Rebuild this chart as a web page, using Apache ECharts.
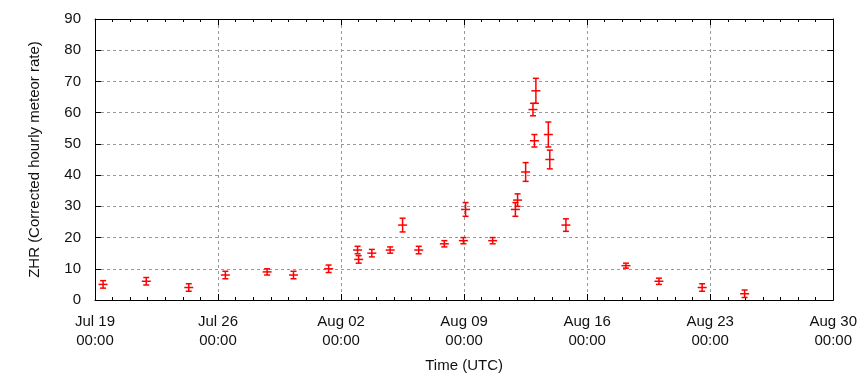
<!DOCTYPE html>
<html>
<head>
<meta charset="utf-8">
<script src="https://cdn.jsdelivr.net/npm/echarts@6/dist/echarts.min.js"></script>
<style>html,body{margin:0;padding:0;background:#fff}#c{width:860px;height:380px}</style>
</head>
<body>
<div id="c"></div>
<script>
// Observation times (UTC), ZHR values and error half-widths
const times = [
  '2016-07-19T11:00Z','2016-07-21T22:00Z','2016-07-24T08:00Z','2016-07-26T10:00Z',
  '2016-07-28T19:00Z','2016-07-30T07:00Z','2016-08-01T07:00Z','2016-08-02T22:30Z',
  '2016-08-03T00:00Z','2016-08-03T18:00Z','2016-08-04T19:00Z','2016-08-05T12:00Z',
  '2016-08-06T10:00Z','2016-08-07T21:00Z','2016-08-08T23:00Z','2016-08-09T02:00Z',
  '2016-08-10T15:00Z','2016-08-11T22:00Z','2016-08-12T01:00Z','2016-08-12T12:00Z',
  '2016-08-12T22:00Z','2016-08-13T00:00Z','2016-08-13T02:00Z','2016-08-13T19:00Z',
  '2016-08-13T21:00Z','2016-08-14T19:00Z','2016-08-18T05:00Z','2016-08-20T02:00Z',
  '2016-08-22T13:00Z','2016-08-24T23:00Z'
];
const zhr = [5,6,4,8,9,8,10,16,13,15,16,24,16,18,19,29,19,29,32,41,61,51,67,53,45,24,11,6,4,2];
const zhrErr = [1.2,1.2,1.2,1.2,1,1.2,1.2,1.2,1.2,1.2,1,2.2,1.2,1,1,2.2,1,2.2,2,3,2,2,4,4,3,2,0.8,1,1.2,1.2];
const xStart = '2016-07-19T00:00Z';
const xEnd = '2016-08-30T00:00Z';
const monthNames = ['Jan','Feb','Mar','Apr','May','Jun','Jul','Aug','Sep','Oct','Nov','Dec'];

const DAY = 86400000;
const data = times.map((t, i) => [Date.parse(t), zhr[i], zhrErr[i]]);
const FONT = '"Liberation Sans", Arial, sans-serif';
const gridLine = {show: true, lineStyle: {color: '#999999', type: [3, 3], width: 1}};

function fmt(v) {
  const d = new Date(v);
  const dd = String(d.getUTCDate()).padStart(2, '0');
  const hh = String(d.getUTCHours()).padStart(2, '0');
  const mm = String(d.getUTCMinutes()).padStart(2, '0');
  return monthNames[d.getUTCMonth()] + ' ' + dd + '\n' + hh + ':' + mm;
}

const chart = echarts.init(document.getElementById('c'), null, {renderer: 'canvas'});
const xMin = Date.parse(xStart), xMax = Date.parse(xEnd);
const baseX = {
  type: 'value', min: xMin, max: xMax, interval: 7 * DAY,
  axisLine: {show: true, onZero: false, lineStyle: {color: '#000', width: 1}},
  axisTick: {show: true, inside: true, length: 6, lineStyle: {color: '#000'}},
  minorTick: {show: true, splitNumber: 7, length: 3, lineStyle: {color: '#000'}}
};
const baseY = {
  type: 'value', min: 0, max: 90, interval: 10,
  axisLine: {show: true, onZero: false, lineStyle: {color: '#000', width: 1}},
  axisTick: {show: true, inside: true, length: 6, lineStyle: {color: '#000'}}
};
chart.setOption({
  animation: false,
  backgroundColor: '#fff',
  grid: {left: 95, right: 25, top: 19, bottom: 80, containLabel: false},
  xAxis: [
    Object.assign({}, baseX, {
      position: 'bottom',
      splitLine: gridLine,
      axisLabel: {formatter: fmt, color: '#111', fontFamily: FONT, fontSize: 15, lineHeight: 19, margin: 12},
      name: 'Time (UTC)', nameLocation: 'middle', nameGap: 58,
      nameTextStyle: {color: '#111', fontFamily: FONT, fontSize: 15}
    }),
    Object.assign({}, baseX, {position: 'top', splitLine: {show: false}, axisLabel: {show: false}})
  ],
  yAxis: [
    Object.assign({}, baseY, {
      position: 'left',
      splitLine: gridLine,
      axisLabel: {color: '#111', fontFamily: FONT, fontSize: 15, margin: 14},
      name: 'ZHR (Corrected hourly meteor rate)', nameLocation: 'middle', nameGap: 53,
      nameTextStyle: {color: '#111', fontFamily: FONT, fontSize: 15}
    }),
    Object.assign({}, baseY, {position: 'right', splitLine: {show: false}, axisLabel: {show: false}})
  ],
  series: [{
    type: 'custom',
    xAxisIndex: 0, yAxisIndex: 0,
    data: data,
    renderItem: function (params, api) {
      const x = api.value(0), y = api.value(1), e = api.value(2);
      const c = api.coord([x, y]);
      const lo = api.coord([x, y - e]);
      const hi = api.coord([x, y + e]);
      const st = {stroke: '#ff0000', lineWidth: 1.5};
      const cap = 3, bar = 4.5;
      return {
        type: 'group',
        children: [
          {type: 'line', shape: {x1: c[0], y1: hi[1], x2: c[0], y2: lo[1]}, style: st},
          {type: 'line', shape: {x1: c[0] - cap, y1: hi[1], x2: c[0] + cap, y2: hi[1]}, style: st},
          {type: 'line', shape: {x1: c[0] - cap, y1: lo[1], x2: c[0] + cap, y2: lo[1]}, style: st},
          {type: 'line', shape: {x1: c[0] - bar, y1: c[1], x2: c[0] + bar, y2: c[1]}, style: st}
        ]
      };
    }
  }]
});
</script>
</body>
</html>
